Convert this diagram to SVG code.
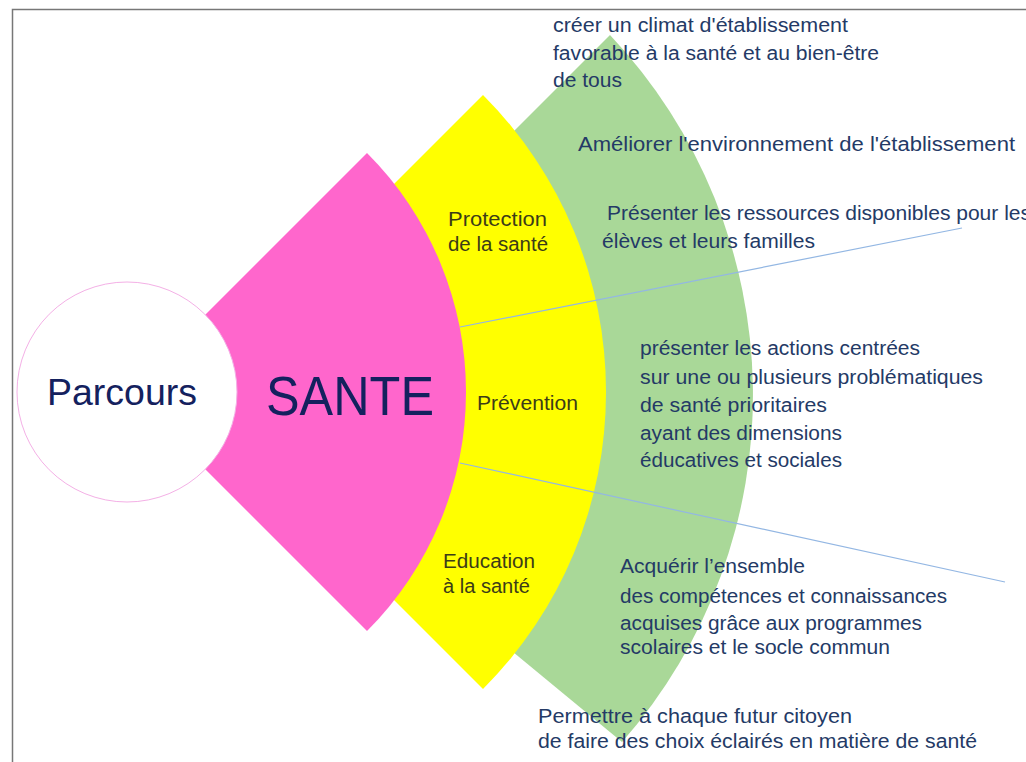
<svg xmlns="http://www.w3.org/2000/svg" width="1026" height="762" viewBox="0 0 1026 762">
<style>
text{font-family:"Liberation Sans",Arial,sans-serif}
.rt{font-size:20px;fill:#243A66}
.yl{font-size:20px;fill:#3C3C18}
.big{fill:#14215E}
.conn{stroke:#93B7E3;stroke-width:1.2;fill:none}
</style>
<rect x="0" y="0" width="1026" height="762" fill="#ffffff"/>
<path d="M12.5 762 V9.5 H1026" fill="none" stroke="#777" stroke-width="1.5"/>
<g id="sector-green">
<path d="M253 392 L610 35 A525 525 0 0 1 622 742 L513 652 Z" fill="#A9D898"/>
</g>
<g id="sector-yellow">
<path d="M186 392 L483 95 A420 420 0 0 1 483 689 Z" fill="#FFFF00"/>
<text class="yl" x="448" y="226" textLength="99" lengthAdjust="spacingAndGlyphs">Protection</text>
<text class="yl" x="448" y="251" textLength="100" lengthAdjust="spacingAndGlyphs">de la santé</text>
<text class="yl" x="477" y="410" textLength="101" lengthAdjust="spacingAndGlyphs">Prévention</text>
<text class="yl" x="443" y="568" textLength="92" lengthAdjust="spacingAndGlyphs">Education</text>
<text class="yl" x="443" y="593" textLength="87" lengthAdjust="spacingAndGlyphs">à la santé</text>
</g>
<g id="sector-pink">
<path d="M128 392 L367 153 A338 338 0 0 1 367 631 Z" fill="#FF66CC"/>
<text class="big" x="266" y="415" font-size="56" textLength="168" lengthAdjust="spacingAndGlyphs">SANTE</text>
</g>
<g id="node-parcours">
<circle cx="127" cy="392" r="110" fill="#ffffff" stroke="#F4B0E6" stroke-width="1"/>
<text class="big" x="47" y="405" font-size="37" textLength="150" lengthAdjust="spacingAndGlyphs">Parcours</text>
</g>
<g id="connectors">
<line class="conn" x1="460" y1="327" x2="962" y2="228"/>
<line class="conn" x1="460" y1="463" x2="1005" y2="582"/>
</g>
<g id="text-climat">
<text class="rt" x="553" y="32" textLength="295" lengthAdjust="spacingAndGlyphs">créer un climat d'établissement</text>
<text class="rt" x="553" y="60" textLength="326" lengthAdjust="spacingAndGlyphs">favorable à la santé et au bien-être</text>
<text class="rt" x="553" y="87" textLength="69" lengthAdjust="spacingAndGlyphs">de tous</text>
</g>
<g id="text-environnement">
<text class="rt" x="578" y="151" textLength="437" lengthAdjust="spacingAndGlyphs">Améliorer l'environnement de l'établissement</text>
</g>
<g id="text-ressources">
<text class="rt" x="607" y="220" textLength="424" lengthAdjust="spacingAndGlyphs">Présenter les ressources disponibles pour les</text>
<text class="rt" x="602" y="248" textLength="213" lengthAdjust="spacingAndGlyphs">élèves et leurs familles</text>
</g>
<g id="text-actions">
<text class="rt" x="640" y="355" textLength="280" lengthAdjust="spacingAndGlyphs">présenter les actions centrées</text>
<text class="rt" x="640" y="384" textLength="343" lengthAdjust="spacingAndGlyphs">sur une ou plusieurs problématiques</text>
<text class="rt" x="640" y="412" textLength="187" lengthAdjust="spacingAndGlyphs">de santé prioritaires</text>
<text class="rt" x="640" y="440" textLength="202" lengthAdjust="spacingAndGlyphs">ayant des dimensions</text>
<text class="rt" x="640" y="467" textLength="202" lengthAdjust="spacingAndGlyphs">éducatives et sociales</text>
</g>
<g id="text-competences">
<text class="rt" x="620" y="573" textLength="185" lengthAdjust="spacingAndGlyphs">Acquérir l’ensemble</text>
<text class="rt" x="620" y="603" textLength="327" lengthAdjust="spacingAndGlyphs">des compétences et connaissances</text>
<text class="rt" x="620" y="630" textLength="302" lengthAdjust="spacingAndGlyphs">acquises grâce aux programmes</text>
<text class="rt" x="620" y="654" textLength="270" lengthAdjust="spacingAndGlyphs">scolaires et le socle commun</text>
</g>
<g id="text-citoyen">
<text class="rt" x="538" y="723" textLength="314" lengthAdjust="spacingAndGlyphs">Permettre à chaque futur citoyen</text>
<text class="rt" x="538" y="748" textLength="439" lengthAdjust="spacingAndGlyphs">de faire des choix éclairés en matière de santé</text>
</g>
</svg>
